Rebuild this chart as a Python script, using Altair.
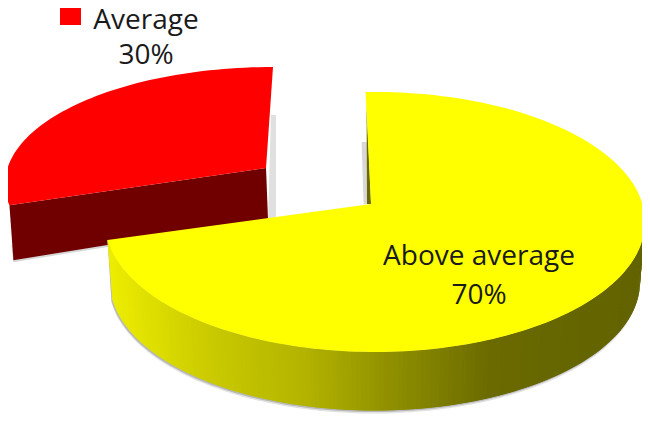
import math
import altair as alt

# Chart values
categories = ["Average", "Above average"]
shares = [30, 70]
share_labels = ["30%", "70%"]

# Drawing constants (page pixels) for the tilted, exploded pie
M = 8  # page margin
RED = dict(cx=273, cy=184, a=268, b=117, apex=(266, 168), stretch=0.93)
YEL = dict(cx=375, cy=222, a=270, b=130, apex=(371, 204), stretch=1.048)
YEL_DEPTH, YEL_SHRINK = 60, 5
YEL_START = -2
SIDE_STOPS = [(105, (238, 238, 0)), (200, (204, 204, 0)), (300, (180, 180, 0)),
              (390, (143, 143, 0)), (490, (106, 106, 0)), (650, (98, 98, 0))]


def ell(p, deg, dy=0, shrink=0, dx=0):
    t = math.radians(deg)
    return (p["cx"] + dx + (p["a"] - shrink) * math.sin(t),
            p["cy"] + dy - (p["b"] - shrink * 0.3) * math.cos(t))


def side_color(x):
    for (x0, c0), (x1, c1) in zip(SIDE_STOPS, SIDE_STOPS[1:]):
        if x <= x1:
            f = max(0, (x - x0) / (x1 - x0))
            return "#%02x%02x%02x" % tuple(round(u + (v - u) * f) for u, v in zip(c0, c1))
    return "#626200"


features = []


def poly(points, color):
    ring = [[x - M, y - M] for x, y in points]
    ring.append(ring[0])
    features.append({"type": "Feature", "properties": {"color": color},
                     "geometry": {"type": "Polygon", "coordinates": [ring]}})


def frange(a, b, step):
    n = max(2, int(abs(b - a) / step) + 1)
    return [a + (b - a) * i / (n - 1) for i in range(n)]


# --- red slice
red_sweep = shares[0] / 100 * 360 * RED["stretch"]
red_arc = [ell(RED, d) for d in frange(-red_sweep, 0, 1.5)]
r0 = red_arc[0]
ax, ay = RED["apex"]
red_low_l, red_low_r = (r0[0] + 4, r0[1] + 55), (ax + 2, ay + 51)
# soft grey shadows
poly([(ax + 5, 115), (ax + 10, 115), (ax + 10, ay + 52), (ax + 2, ay + 54)], "#e0e0e0")
poly([(r0[0] + 2, r0[1] + 40), (red_low_l[0], red_low_l[1] + 2), (red_low_r[0], red_low_r[1] + 2)], "#d8d8d8")
poly([r0, RED["apex"], red_low_r, red_low_l], "#700000")
poly(red_arc + [RED["apex"]], "#ff0000")

# --- yellow slice
yel_sweep = shares[1] / 100 * 360 * YEL["stretch"]
y_end = YEL_START + yel_sweep
yx, yy = YEL["apex"]
top0 = ell(YEL, YEL_START)
# shadow behind the cut edge and beneath the rim
poly([(top0[0] - 4, 142), (top0[0] + 2, 142), (yx, yy), (top0[0] - 2, yy)], "#d8d8d8")
low = [ell(YEL, d, YEL_DEPTH + 3, YEL_SHRINK, -1) for d in frange(92, y_end, 2)]
poly(low + [ell(YEL, y_end)], "#e2e2e2")
low = [ell(YEL, d, YEL_DEPTH + 1.5, YEL_SHRINK, -1) for d in frange(92, y_end, 2)]
poly(low + [ell(YEL, y_end)], "#b8b8b8")
# shaded rim, one small overlapping quad per arc step
degs = frange(85, y_end, 1)
for d0, d1 in zip(degs, degs[1:]):
    d2 = min(d1 + 1, y_end)
    a0, a1 = ell(YEL, d0), ell(YEL, d2)
    b1, b0 = ell(YEL, d2, YEL_DEPTH, YEL_SHRINK), ell(YEL, d0, YEL_DEPTH, YEL_SHRINK)
    poly([a0, a1, b1, b0], side_color((a0[0] + a1[0]) / 2))
# dark sliver on the cut edge
poly([(top0[0] + 1, 105), (yx, yy), (yx - 4, yy)], "#6a6a00")
# top face
yel_arc = [ell(YEL, d) for d in frange(YEL_START, y_end, 1.5)]
poly(yel_arc + [YEL["apex"]], "#ffff00")
# legend swatch
poly([(60, 8), (81, 8), (81, 25), (60, 25)], "#ff0000")

shapes = alt.Chart(alt.InlineData(values={"type": "FeatureCollection", "features": features},
                                  format=alt.DataFormat(property="features", type="json"))).mark_geoshape(
    strokeWidth=0
).encode(
    fill=alt.Fill("properties.color:N", scale=None),
).project(type="identity", scale=1, translate=[0, 0])


def label(text, x, baseline):
    return alt.Chart(alt.Data(values=[{"t": text}])).mark_text(
        font="Open Sans", fontSize=28, color="#1a1a1a", align="center", baseline="alphabetic"
    ).encode(text="t:N", x=alt.value(x - M), y=alt.value(baseline - M))


chart = alt.layer(
    shapes,
    label(categories[0], 146, 29),
    label(share_labels[0], 146, 64),
    label(categories[1], 479, 265),
    label(share_labels[1], 479, 304),
).properties(
    width=634, height=408, padding=0, autosize=alt.AutoSizeParams(type="none"), background="white"
).configure_view(stroke=None)

chart.save("out.html", embed_options={"renderer": "svg", "actions": False})
